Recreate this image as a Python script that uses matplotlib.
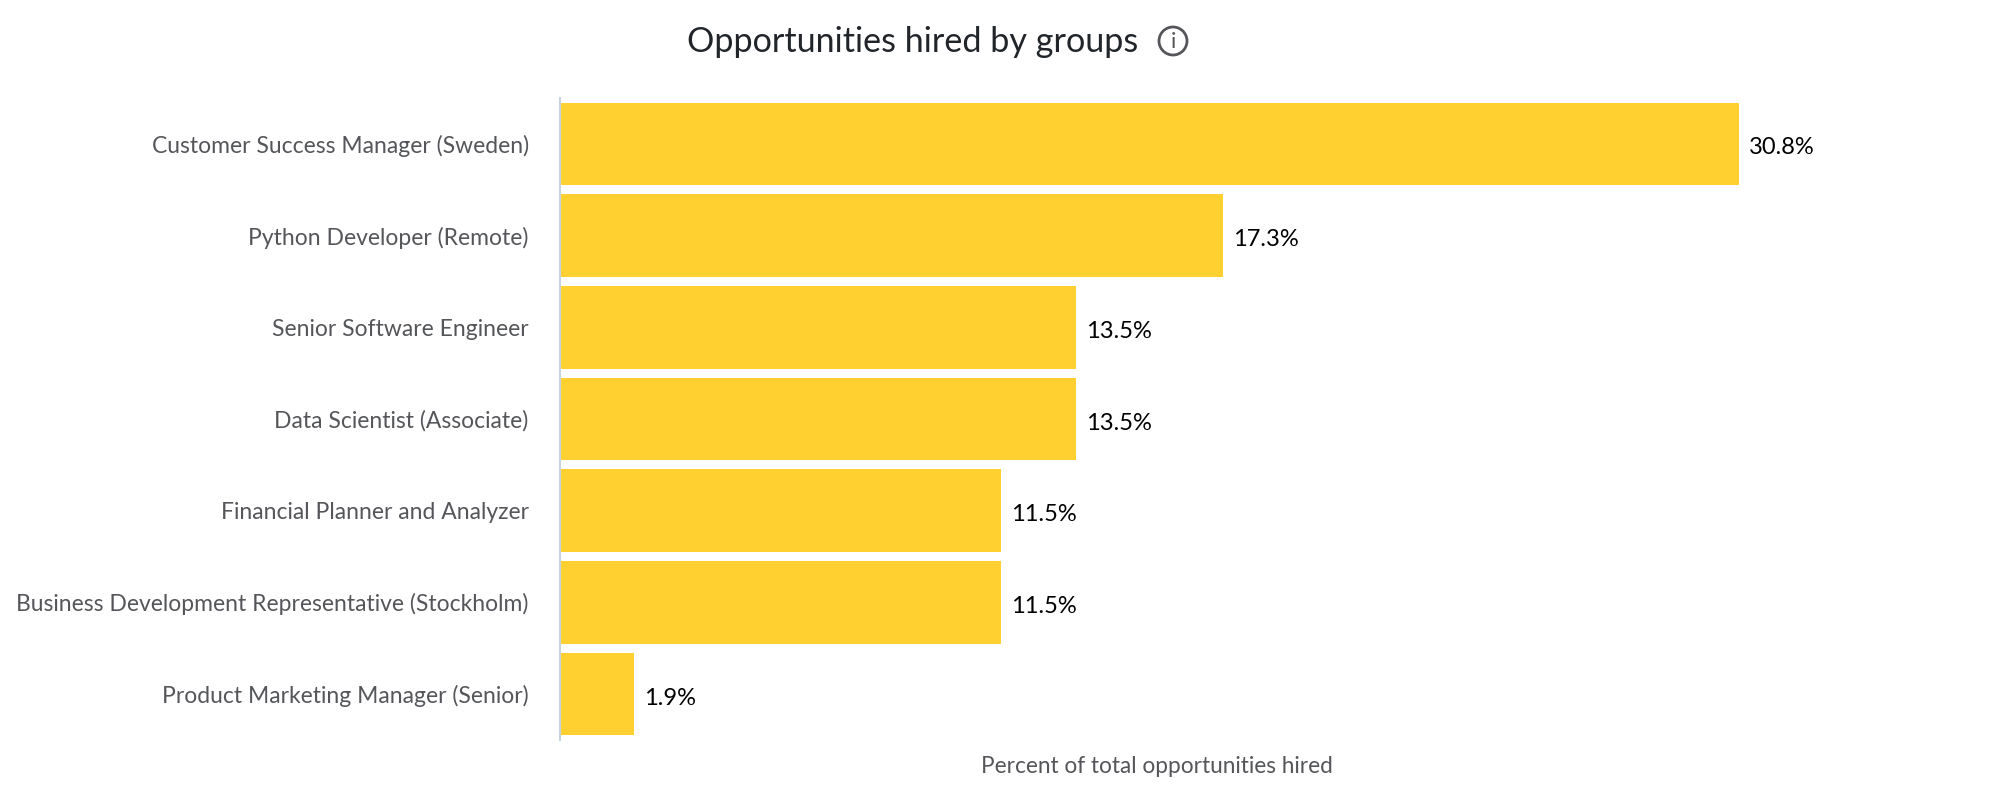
import matplotlib
matplotlib.use("Agg")
import matplotlib.pyplot as plt
from matplotlib.patches import Circle
from matplotlib.transforms import IdentityTransform, ScaledTranslation

groups = ["Customer Success Manager (Sweden)", "Python Developer (Remote)",
          "Senior Software Engineer", "Data Scientist (Associate)",
          "Financial Planner and Analyzer", "Business Development Representative (Stockholm)",
          "Product Marketing Manager (Senior)"]
percent = [30.77, 17.31, 13.46, 13.46, 11.5, 11.5, 1.92]

plt.rcParams['font.family'] = ['Lato', 'DejaVu Sans']

W, H = 2006, 804
fig = plt.figure(figsize=(W / 100, H / 100), dpi=100)

# axes box in pixels, bars start at the y axis line
left, right, top, bottom = 560, 1900, 99, 741
ax = fig.add_axes([left / W, 1 - bottom / H, (right - left) / W, (bottom - top) / H])

y = list(range(len(groups)))
ax.barh(y, percent, height=0.9, color="#FFD02F")
ax.set_ylim(len(groups) - 0.5, -0.5)
# 30.8% reaches x=1739 px
ax.set_xlim(0, 30.77 * (right - left) / (1739 - left))

for i, p in enumerate(percent):
    ax.annotate(f"{p:.1f}%", (p, i), xytext=(10, -3), textcoords="offset pixels",
                va="center", ha="left", fontsize=17, color="#000000")

ax.set_yticks(y)
ax.set_yticklabels(groups, fontsize=16.5, color="#55565a")
ax.tick_params(axis="y", length=0, pad=22.5)
# nudge the category labels up a little
for lab in ax.get_yticklabels():
    lab.set_transform(lab.get_transform() + ScaledTranslation(0, 1 / 100, fig.dpi_scale_trans))
ax.set_xticks([])
for s in ["top", "right", "bottom"]:
    ax.spines[s].set_visible(False)
ax.spines["left"].set_color("#c9d2e0")
ax.spines["left"].set_linewidth(1.5)

fig.text(1157 / W, 1 - 767 / H, "Percent of total opportunities hired",
         ha="center", va="center", fontsize=16.3, color="#55565a")
fig.text(687 / W, 1 - 42 / H, "Opportunities hired by groups",
         ha="left", va="center", fontsize=24.6, color="#212529")

# info icon next to the title
cx, cy = 1173, 42
fig.add_artist(Circle((cx, H - cy), 14, transform=IdentityTransform(),
                      fc="none", ec="#55565a", lw=2))
fig.text(cx / W, 1 - cy / H, "i", ha="center", va="center", fontsize=16, color="#55565a")

fig.savefig("out.png", dpi=100)
